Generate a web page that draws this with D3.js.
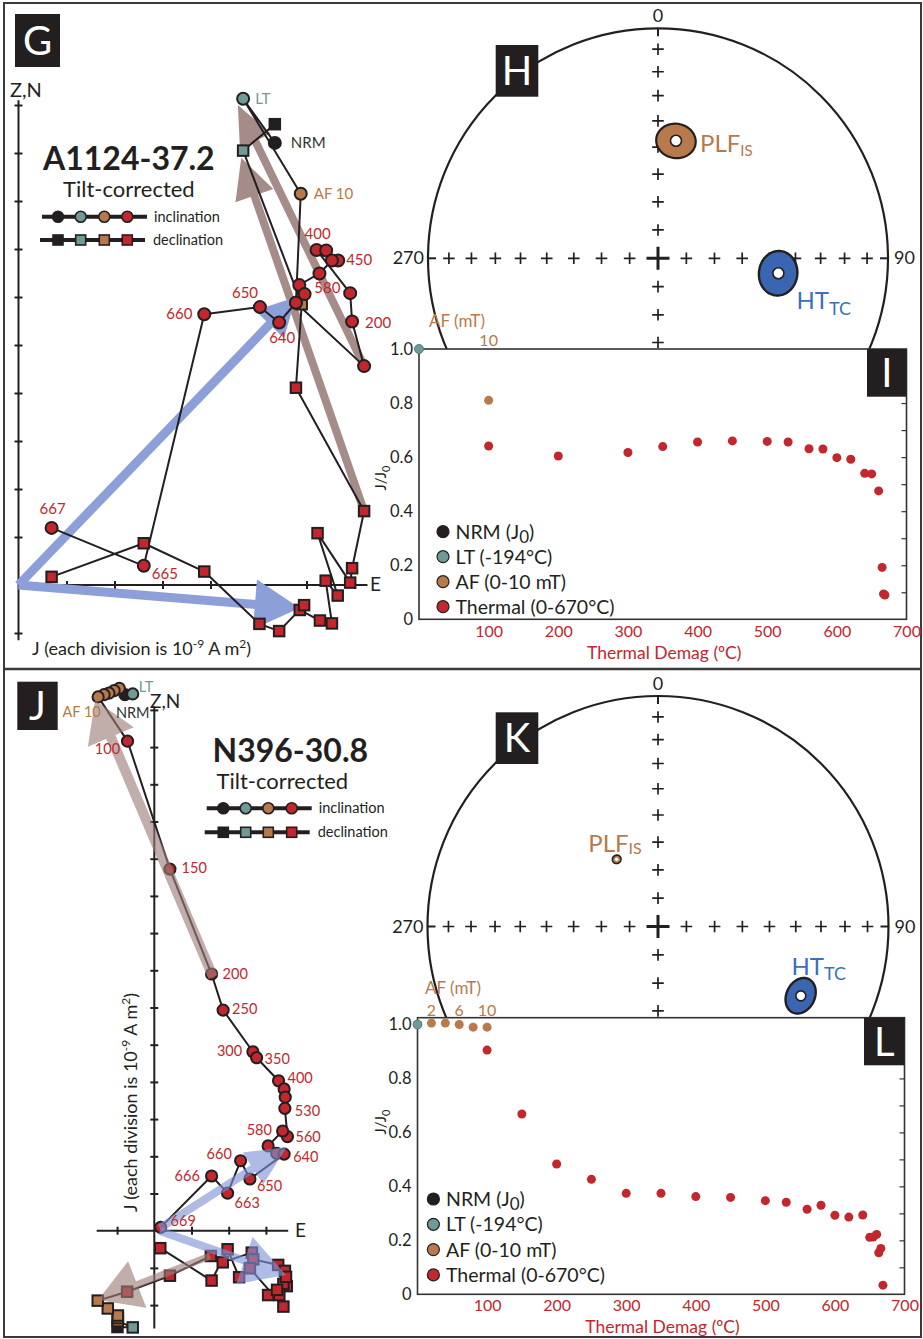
<!DOCTYPE html>
<html>
<head>
<meta charset="utf-8">
<script src="https://cdn.jsdelivr.net/npm/d3@7/dist/d3.min.js"></script>
<style>
  html, body { margin: 0; padding: 0; background: #fff; }
  svg { display: block; }
  text { font-family: Lato, "Noto Sans", "DejaVu Sans", sans-serif; }
</style>
</head>
<body>
<svg id="fig" width="923" height="1339" viewBox="0 0 923 1339"></svg>
<script>
// ======================= DATA =======================
// Orthogonal (Zijderveld) projections, in divisions of 1e-9 A m^2.
// Inclination rows: [step, East, Up(Z)]; declination rows: [step, East, North]

// ---- A1124-37.2 ----
const a1124Inclination = [
  ["NRM", 5.34, 9.21], ["LT", 4.68, 10.13], ["AF10", 5.88, 8.15],
  ["100", 5.78, 5.88], ["150", 7.20, 4.56], ["200", 6.95, 5.49], ["300", 6.91, 6.08],
  ["400", 6.21, 6.98], ["450", 6.66, 6.76], ["500", 6.41, 6.97], ["530", 6.53, 6.76],
  ["560", 6.27, 6.49], ["580", 5.85, 6.25], ["600", 5.96, 6.06], ["620", 5.78, 5.88],
  ["640", 5.43, 5.47], ["650", 5.03, 5.79], ["660", 3.87, 5.64], ["665", 2.61, 0.40],
  ["667", 0.69, 1.19]
];
const a1124Declination = [
  ["NRM", 5.34, 9.60], ["LT", 4.68, 9.05], ["AF10", 5.90, 5.85],
  ["100", 5.78, 4.11], ["150", 7.20, 1.54], ["200", 6.95, 0.35], ["300", 6.91, 0.05],
  ["400", 6.23, 1.08], ["450", 6.65, -0.22], ["500", 6.40, 0.09], ["530", 6.53, -0.80],
  ["560", 6.28, -0.74], ["580", 5.86, -0.52], ["600", 5.95, -0.42], ["640", 5.43, -0.96],
  ["650", 5.02, -0.81], ["660", 3.87, 0.28], ["665", 2.61, 0.87], ["667", 0.69, 0.17]
];
// Component fits: [component, projection, fromE, fromY, toE, toY]
const a1124Fits = [
  ["PLF", "incl", 7.20, 4.56, 4.57, 10.00],
  ["PLF", "decl", 7.20, 1.54, 4.64, 8.90],
  ["HT", "incl", 0, 0, 5.78, 6.00],
  ["HT", "decl", 0, 0, 5.86, -0.48]
];
// Mean directions on the equal-area net: [component, subscript, dec, inc, a95]
const a1124Means = [
  ["PLF", "IS", 8.7, 47.1, 6.5],
  ["HT", "TC", 97.1, 46.2, 7.3]
];
// Demagnetization (J/J0)
const a1124NRM = [[0, 1.0]];
const a1124LT = [[0, 1.0]];
const a1124AF = [[10, 0.810]];               // [mT, J/J0]
const a1124Thermal = [                        // [degC, J/J0]
  [100, 0.641], [200, 0.604], [300, 0.617], [350, 0.639], [400, 0.656], [450, 0.660],
  [500, 0.658], [530, 0.656], [560, 0.631], [580, 0.630], [600, 0.598], [620, 0.592],
  [640, 0.540], [650, 0.538], [660, 0.475], [665, 0.192], [667, 0.094], [669, 0.090]
];
const a1124AFTicks = [10];

// ---- N396-30.8 ----
const n396Inclination = [
  ["NRM", -0.79, 14.41], ["LT", -0.58, 14.43], ["AF2", -0.94, 14.58], ["AF4", -1.08, 14.52],
  ["AF6", -1.22, 14.45], ["AF8", -1.35, 14.41], ["AF10", -1.51, 14.35],
  ["100", -0.72, 13.16], ["150", 0.42, 9.72], ["200", 1.54, 6.90], ["250", 1.85, 5.93],
  ["300", 2.65, 4.81], ["350", 2.75, 4.65], ["400", 3.34, 4.03], ["450", 3.49, 3.81],
  ["500", 3.52, 3.59], ["530", 3.51, 3.29], ["560", 3.58, 2.53], ["580", 3.45, 2.68],
  ["600", 3.06, 2.28], ["620", 3.29, 2.08], ["640", 3.49, 2.06], ["650", 2.57, 1.39],
  ["660", 2.32, 1.88], ["663", 1.97, 1.01], ["666", 1.54, 1.47], ["669", 0.17, 0.09]
];
const n396Declination = [
  ["NRM", -0.99, -2.59], ["LT", -0.58, -2.60], ["AF2", -0.98, -2.43], ["AF4", -0.98, -2.35],
  ["AF6", -0.98, -2.28], ["AF8", -1.25, -2.09], ["AF10", -1.52, -1.88],
  ["100", -0.73, -1.64], ["150", 0.42, -1.21], ["200", 1.52, -0.68], ["250", 1.84, -0.85],
  ["300", 2.62, -0.59], ["350", 2.66, -0.77], ["400", 3.33, -0.92], ["450", 3.51, -1.08],
  ["500", 3.56, -1.49], ["530", 3.47, -1.43], ["560", 3.54, -1.24], ["580", 3.36, -1.73],
  ["600", 3.06, -1.73], ["620", 3.30, -1.59], ["640", 3.47, -2.04], ["650", 2.57, -1.01],
  ["660", 2.28, -1.25], ["663", 1.97, -0.50], ["666", 1.54, -1.34], ["669", 0.16, -0.47]
];
const n396Fits = [
  ["PLF", "incl", 1.58, 6.82, -1.59, 14.26],
  ["PLF", "decl", 1.50, -0.68, -1.51, -1.86],
  ["HT", "incl", 0.15, 0.07, 3.56, 2.25],
  ["HT", "decl", 0.15, -0.01, 3.54, -1.19]
];
const n396Means = [
  ["PLF", "IS", 328.4, 62.0, 1.5],
  ["HT", "TC", 115.9, 31.7, 5.7]
];
const n396NRM = [[0, 1.0]];
const n396LT = [[0, 1.0]];
const n396AF = [[2, 1.005], [4, 1.005], [6, 1.0], [8, 0.99], [10, 0.99]];
const n396Thermal = [
  [100, 0.905], [150, 0.668], [200, 0.483], [250, 0.426], [300, 0.374], [350, 0.374],
  [400, 0.362], [450, 0.359], [500, 0.347], [530, 0.341], [560, 0.315], [580, 0.330],
  [600, 0.293], [620, 0.286], [640, 0.294], [650, 0.211], [655, 0.212], [660, 0.222],
  [663, 0.154], [666, 0.170], [669, 0.034]
];
const n396AFTicks = [2, 6, 10];

// Shared axis values
const netTickInclinations = [10, 20, 30, 40, 50, 60, 70, 80];
const demagTempTicks = [100, 200, 300, 400, 500, 600, 700];
const demagJTicks = [0, 0.2, 0.4, 0.6, 0.8, 1.0];
const demagMinorTicks = [0.1, 0.2, 0.3, 0.4, 0.5, 0.6, 0.7, 0.8, 0.9];
const legendEntries = [["NRM", "NRM (J", "0", ")"], ["LT", "LT (-194°C)"], ["AF", "AF (0-10 mT)"], ["TH", "Thermal (0-670°C)"]];

// ======================= STYLE / LAYOUT =======================
const COL = {
  ink: "#231f20", red: "#c1272d", brown: "#b8794b", teal: "#6f9a95",
  blueFill: "#3a66b1", blueText: "#3c70b8", fitBrown: "#a58c88", fitBlue: "#8d9fd9",
  frame: "#3a3a3a", nrmText: "#333333"
};
const rad = Math.PI / 180;
const svg = d3.select("#fig");

function stepColor(step) {
  if (step === "NRM") return COL.ink;
  if (step === "LT") return COL.teal;
  if (step.startsWith("AF")) return COL.brown;
  return COL.red;
}

function txt(g, x, y, s, o = {}) {
  const t = g.append("text").attr("x", x).attr("y", y).text(s)
    .attr("font-size", o.size || 15).attr("fill", o.fill || COL.ink);
  if (o.anchor) t.attr("text-anchor", o.anchor);
  if (o.weight) t.attr("font-weight", o.weight);
  return t;
}

function fitArrow(g, x, y, f, st) {
  const p0 = [x(f[2]), y(f[3])], p1 = [x(f[4]), y(f[5])];
  const dx = p1[0] - p0[0], dy = p1[1] - p0[1], len = Math.hypot(dx, dy);
  const ux = dx / len, uy = dy / len, px = -uy, py = ux;
  const b = [p1[0] - ux * st.head, p1[1] - uy * st.head];
  const a = g.append("g").attr("opacity", st.opacity);
  a.append("line").attr("x1", p0[0]).attr("y1", p0[1])
    .attr("x2", b[0] + ux * 2).attr("y2", b[1] + uy * 2)
    .attr("stroke", st.color).attr("stroke-width", st.width);
  a.append("path")
    .attr("d", `M${p1[0]},${p1[1]}L${b[0] + px * st.half},${b[1] + py * st.half}L${b[0] - px * st.half},${b[1] - py * st.half}Z`)
    .attr("fill", st.color);
}

// ---------- Orthogonal projection ----------
function zijderveld(cfg) {
  const g = svg.append("g");
  const x = d3.scaleLinear().domain([0, 1]).range([cfg.ox, cfg.ox + cfg.unit]);
  const y = d3.scaleLinear().domain([0, 1]).range([cfg.oy, cfg.oy - cfg.unit]);

  // axes through the origin
  g.append("line").attr("x1", x(cfg.xExtent[0])).attr("x2", x(cfg.xExtent[1]))
    .attr("y1", y(0)).attr("y2", y(0)).attr("stroke", COL.ink).attr("stroke-width", 2);
  g.append("line").attr("x1", x(0)).attr("x2", x(0))
    .attr("y1", y(cfg.yExtent[0])).attr("y2", y(cfg.yExtent[1])).attr("stroke", COL.ink).attr("stroke-width", 2);
  const ax = g.append("g").attr("transform", `translate(0,${y(0)})`)
    .call(d3.axisBottom(x).tickValues(cfg.xTicks).tickFormat("").tickSizeOuter(0));
  const ay = g.append("g").attr("transform", `translate(${x(0)},0)`)
    .call(d3.axisLeft(y).tickValues(cfg.yTicks).tickFormat("").tickSizeOuter(0));
  ax.select(".domain").remove(); ay.select(".domain").remove();
  ax.selectAll(".tick line").attr("y1", -4).attr("y2", 4).attr("stroke", COL.ink).attr("stroke-width", 2);
  ay.selectAll(".tick line").attr("x1", -4).attr("x2", 4).attr("stroke", COL.ink).attr("stroke-width", 2);

  const drawFits = (layer) => cfg.fits.forEach(f => fitArrow(layer, x, y, f, cfg.fitStyle[f[0] + "-" + f[1]]));
  if (!cfg.fitsOnTop) drawFits(g.append("g"));

  const line = d3.line().x(d => x(d[1])).y(d => y(d[2]));
  g.append("path").datum(cfg.decl).attr("d", line).attr("fill", "none")
    .attr("stroke", COL.ink).attr("stroke-width", 2).attr("stroke-linejoin", "round");
  g.append("path").datum(cfg.incl).attr("d", line).attr("fill", "none")
    .attr("stroke", COL.ink).attr("stroke-width", 2).attr("stroke-linejoin", "round");

  const s = cfg.square;
  g.append("g").selectAll("rect").data(cfg.decl).join("rect")
    .attr("x", d => x(d[1]) - s / 2).attr("y", d => y(d[2]) - s / 2)
    .attr("width", s).attr("height", s)
    .attr("fill", d => stepColor(d[0])).attr("stroke", COL.ink).attr("stroke-width", 2);
  g.append("g").selectAll("circle").data(cfg.incl).join("circle")
    .attr("cx", d => x(d[1])).attr("cy", d => y(d[2])).attr("r", cfg.radius)
    .attr("fill", d => stepColor(d[0])).attr("stroke", COL.ink).attr("stroke-width", 2);

  if (cfg.fitsOnTop) drawFits(g.append("g"));

  // step labels
  const lab = g.append("g");
  Object.entries(cfg.labelOffsets).forEach(([step, off]) => {
    const d = cfg.incl.find(p => p[0] === step);
    const name = step === "AF10" ? "AF 10" : step;
    let fill = COL.red;
    if (step === "LT") fill = COL.teal;
    else if (step === "NRM") fill = COL.nrmText;
    else if (step.startsWith("AF")) fill = COL.brown;
    txt(lab, x(d[1]) + off[0], y(d[2]) + off[1], name, { size: cfg.labelSize, fill });
  });
  return { x, y, g };
}

function zLegend(g, L) {
  const cols = [COL.ink, COL.teal, COL.brown, COL.red];
  g.append("line").attr("x1", L.x0).attr("x2", L.x1).attr("y1", L.yInc).attr("y2", L.yInc)
    .attr("stroke", COL.ink).attr("stroke-width", 4);
  g.append("line").attr("x1", L.x0 - 2).attr("x2", L.x1 - 2).attr("y1", L.yDec).attr("y2", L.yDec)
    .attr("stroke", COL.ink).attr("stroke-width", 4);
  L.xs.forEach((cx, i) => {
    g.append("circle").attr("cx", cx).attr("cy", L.yInc).attr("r", 5.5)
      .attr("fill", cols[i]).attr("stroke", COL.ink).attr("stroke-width", 1.6);
    g.append("rect").attr("x", cx - 5).attr("y", L.yDec - 5).attr("width", 10).attr("height", 10)
      .attr("fill", cols[i]).attr("stroke", COL.ink).attr("stroke-width", 1.6);
  });
  txt(g, L.tx, L.yInc + 5, "inclination", { size: 14.5 });
  txt(g, L.tx - 1, L.yDec + 5, "declination", { size: 14.5 });
}

function jAxisLabel(t) {
  t.append("tspan").attr("dy", -7).attr("font-size", 12).text("-9");
  t.append("tspan").attr("dy", 7).text(" A m");
  t.append("tspan").attr("dy", -7).attr("font-size", 12).text("2");
  t.append("tspan").attr("dy", 7).text(")");
}

// ---------- Equal-area net ----------
function stereonet(cfg) {
  const g = svg.append("g");
  const sx = d3.scaleLinear().domain([-1, 1]).range([cfg.cx - cfg.R, cfg.cx + cfg.R]);
  const sy = d3.scaleLinear().domain([-1, 1]).range([cfg.cy + cfg.R, cfg.cy - cfg.R]);
  const proj = (dec, inc) => {
    const r = Math.SQRT2 * Math.sin((90 - Math.abs(inc)) * rad / 2);
    return [sx(r * Math.sin(dec * rad)), sy(r * Math.cos(dec * rad))];
  };
  g.append("circle").attr("cx", sx(0)).attr("cy", sy(0)).attr("r", sx(1) - sx(0))
    .attr("fill", "none").attr("stroke", COL.ink).attr("stroke-width", 2.2);

  const plus = (p, h, w) => {
    g.append("path").attr("d", `M${p[0] - h},${p[1]}H${p[0] + h}M${p[0]},${p[1] - h}V${p[1] + h}`)
      .attr("stroke", COL.ink).attr("stroke-width", w).attr("fill", "none");
  };
  [0, 90, 180, 270].forEach(dec => netTickInclinations.forEach(inc => plus(proj(dec, inc), 5.8, 1.7)));
  plus(proj(0, 90), 11.5, 3);
  // short ticks on the primitive at the cardinal points
  [[0, 0, 1], [90, -1, 0], [270, 1, 0]].forEach(([dec, dx, dy]) => {
    const p = proj(dec, 0);
    g.append("line").attr("x1", p[0]).attr("y1", p[1]).attr("x2", p[0] + dx * 8).attr("y2", p[1] + dy * 8)
      .attr("stroke", COL.ink).attr("stroke-width", 2);
  });
  const pN = proj(0, 0), pE = proj(90, 0), pW = proj(270, 0);
  txt(g, pN[0], pN[1] - 6, "0", { size: 18, anchor: "middle" });
  txt(g, pE[0] + 6, pE[1] + 6, "90", { size: 18 });
  txt(g, pW[0] - 4, pW[1] + 6, "270", { size: 18, anchor: "end" });

  // confidence cones and means
  cfg.means.forEach(m => {
    const [name, sub, dec, inc, a95] = m;
    const st = cfg.meanStyle[name];
    const D = dec * rad, I = inc * rad, A = a95 * rad;
    const mv = [Math.cos(I) * Math.cos(D), Math.cos(I) * Math.sin(D), Math.sin(I)];
    const u = [-Math.sin(I) * Math.cos(D), -Math.sin(I) * Math.sin(D), Math.cos(I)];
    const v = [-Math.sin(D), Math.cos(D), 0];
    const pts = d3.range(0, 360, 4).map(t => {
      const c = Math.cos(t * rad), s = Math.sin(t * rad);
      const p = [0, 1, 2].map(k => Math.cos(A) * mv[k] + Math.sin(A) * (c * u[k] + s * v[k]));
      return proj(Math.atan2(p[1], p[0]) / rad, Math.asin(p[2]) / rad);
    });
    g.append("path").attr("d", d3.line().curve(d3.curveLinearClosed)(pts))
      .attr("fill", st.fill).attr("stroke", COL.ink).attr("stroke-width", st.stroke);
    const c = proj(dec, inc);
    g.append("circle").attr("cx", c[0]).attr("cy", c[1]).attr("r", st.dot)
      .attr("fill", "#fff").attr("stroke", COL.ink).attr("stroke-width", st.dotStroke);
    const t = txt(g, c[0] + st.label[0], c[1] + st.label[1], name, { size: st.size, fill: st.text });
    t.append("tspan").attr("font-size", st.subSize).attr("dy", st.subShift).text(sub);
  });
  return { g, proj };
}

// ---------- Demagnetization plot ----------
function demagPlot(cfg) {
  const g = svg.append("g");
  const x = d3.scaleLinear().domain([0, 700]).range([cfg.left, cfg.right]);
  const y = d3.scaleLinear().domain([0, cfg.ymax]).range([cfg.bottom, cfg.top]);
  g.append("rect").attr("x", cfg.left).attr("y", cfg.top)
    .attr("width", cfg.right - cfg.left).attr("height", cfg.bottom - cfg.top)
    .attr("fill", "#fff").attr("stroke", "#333").attr("stroke-width", 1.6);

  const xa = g.append("g").attr("transform", `translate(0,${cfg.bottom})`)
    .call(d3.axisBottom(x).tickValues(demagTempTicks).tickSize(0).tickPadding(cfg.xPad));
  xa.select(".domain").remove();
  xa.selectAll("text").attr("fill", COL.red).attr("font-size", 16).attr("font-family", null);

  const ya = g.append("g").attr("transform", `translate(${cfg.left},0)`)
    .call(d3.axisLeft(y).tickValues(demagJTicks).tickSize(0).tickPadding(6)
      .tickFormat(d => d === 0 ? "0" : d.toFixed(1)));
  ya.select(".domain").remove();
  ya.selectAll("text").attr("fill", COL.ink).attr("font-size", 16.5).attr("font-family", null);

  const yr = g.append("g").attr("transform", `translate(${cfg.right},0)`)
    .call(d3.axisLeft(y).tickValues(demagMinorTicks).tickSize(5).tickFormat(""));
  yr.select(".domain").remove();
  yr.selectAll("line").attr("stroke", "#333").attr("stroke-width", 1.2);

  // top AF axis labels (mT plotted at 10 x mT)
  txt(g, cfg.afTitle[0], cfg.afTitle[1], "AF (mT)", { size: 17, fill: COL.brown });
  cfg.afTicks.forEach(v => txt(g, x(v * 10), cfg.afTickY, String(v), { size: 16, fill: COL.brown, anchor: "middle" }));

  // axis titles
  txt(g, (cfg.left + cfg.right) / 2 + cfg.titleShift, cfg.titleY, "Thermal Demag (ºC)", { size: 17.5, fill: COL.red, anchor: "middle" });
  const yl = g.append("text").attr("transform", `translate(${cfg.yTitle[0]},${cfg.yTitle[1]}) rotate(-90)`)
    .attr("text-anchor", "middle").attr("font-size", 15).attr("fill", COL.ink).text("J/J");
  yl.append("tspan").attr("font-size", 11).attr("dy", 4).text("0");

  // legend
  const lg = g.append("g");
  const lcol = { NRM: COL.ink, LT: COL.teal, AF: COL.brown, TH: COL.red };
  legendEntries.forEach((e, i) => {
    const yy = cfg.legend.y0 + i * cfg.legend.dy;
    lg.append("circle").attr("cx", cfg.legend.cx).attr("cy", yy).attr("r", 6)
      .attr("fill", lcol[e[0]]).attr("stroke", COL.ink).attr("stroke-width", 1.2);
    const t = txt(lg, cfg.legend.tx, yy + 7, e[1], { size: 19.5 });
    if (e.length > 2) {
      t.append("tspan").attr("dy", 4).attr("font-size", 17).text(e[2]);
      t.append("tspan").attr("dy", -4).text(e[3]);
    }
  });

  // data
  const dots = g.append("g");
  const put = (data, fx, color, stroke) => dots.selectAll(null).data(data).join("circle")
    .attr("cx", d => x(fx(d[0]))).attr("cy", d => y(d[1])).attr("r", 4.5)
    .attr("fill", color).attr("stroke", stroke || "none").attr("stroke-width", 0.8);
  put(cfg.thermal, t => t, COL.red);
  put(cfg.af, mT => mT * 10, COL.brown);
  put(cfg.nrm, t => t, COL.ink);
  put(cfg.lt, t => t, COL.teal, "#55807b");
  return g;
}

function panelTag(x, y, w, h, letter) {
  const g = svg.append("g");
  g.append("rect").attr("x", x).attr("y", y).attr("width", w).attr("height", h).attr("fill", COL.ink);
  txt(g, x + w / 2, y + h / 2 + 14, letter, { size: 40, fill: "#fff", anchor: "middle" });
}

// ======================= FIGURE =======================
// outer frame and panel divider
svg.append("rect").attr("x", 4).attr("y", 3).attr("width", 917).attr("height", 1334)
  .attr("fill", "#fff").attr("stroke", COL.frame).attr("stroke-width", 2);
svg.append("line").attr("x1", 4).attr("x2", 921).attr("y1", 669).attr("y2", 669)
  .attr("stroke", COL.frame).attr("stroke-width", 2.5);

// ---- G : A1124-37.2 orthogonal projection ----
const zG = zijderveld({
  ox: 18.5, oy: 585, unit: 48, xExtent: [0, 7.27], yExtent: [-1.15, 10.1],
  xTicks: [1, 2, 3, 4, 5, 6, 7], yTicks: [-1, 1, 2, 3, 4, 5, 6, 7, 8, 9, 10],
  incl: a1124Inclination, decl: a1124Declination, fits: a1124Fits, fitsOnTop: false,
  radius: 6, square: 10.5, labelSize: 15,
  fitStyle: {
    "PLF-incl": { color: COL.fitBrown, width: 8, head: 40, half: 17, opacity: 1 },
    "PLF-decl": { color: COL.fitBrown, width: 8, head: 40, half: 20, opacity: 1 },
    "HT-incl": { color: COL.fitBlue, width: 9, head: 38, half: 20, opacity: 1 },
    "HT-decl": { color: COL.fitBlue, width: 9, head: 45, half: 25, opacity: 1 }
  },
  labelOffsets: {
    LT: [12, 5], NRM: [16, 5], AF10: [13, 5], "200": [13, 7], "400": [-12, -11],
    "450": [8, 4], "580": [15, 8], "640": [-10, 21], "650": [-28, -9], "660": [-38, 5],
    "665": [8, 13], "667": [-12, -14]
  }
});
txt(zG.g, 10, 97, "Z,N", { size: 20 });
txt(zG.g, 370, 591, "E", { size: 19 });
jAxisLabel(txt(zG.g, 32, 655, "J (each division is 10", { size: 18 }));
txt(zG.g, 43, 170, "A1124-37.2", { size: 32, weight: 700 });
txt(zG.g, 63, 197, "Tilt-corrected", { size: 22 });
zLegend(zG.g, { x0: 42, x1: 147, yInc: 216.7, yDec: 240, xs: [58, 80.7, 104.3, 127.3], tx: 154 });

// ---- H : A1124 net ----
const meanStyleH = {
  PLF: { fill: COL.brown, text: COL.brown, stroke: 2.2, dot: 5.5, dotStroke: 1.6, size: 24, subSize: 15, subShift: 4, label: [24, 11] },
  HT: { fill: COL.blueFill, text: COL.blueText, stroke: 2.4, dot: 5.5, dotStroke: 1.6, size: 24, subSize: 18, subShift: 6, label: [18, 36] }
};
stereonet({ cx: 658, cy: 258.3, R: 230, means: a1124Means, meanStyle: meanStyleH });

// ---- I : A1124 demagnetization ----
demagPlot({
  left: 419, right: 906.5, top: 349, bottom: 619.3, ymax: 1.0, xPad: 6,
  thermal: a1124Thermal, af: a1124AF, lt: a1124LT, nrm: a1124NRM, afTicks: a1124AFTicks,
  afTitle: [429, 327], afTickY: 346,
  titleY: 659, titleShift: 1.5, yTitle: [386, 478],
  legend: { cx: 443, tx: 455.5, y0: 531.7, dy: 25 }
});

// ---- J : N396-30.8 orthogonal projection ----
const zJ = zijderveld({
  ox: 154.3, oy: 1230.7, unit: 37.2, xExtent: [-1.55, 3.6], yExtent: [-2.63, 14.1],
  xTicks: [-1, 1, 2, 3], yTicks: [-2, -1, 1, 2, 3, 4, 5, 6, 7, 8, 9, 10, 11, 12, 13, 14],
  incl: n396Inclination, decl: n396Declination, fits: n396Fits, fitsOnTop: true,
  radius: 5.6, square: 10.5, labelSize: 14.5,
  fitStyle: {
    "PLF-incl": { color: "#9c7c77", width: 10, head: 40, half: 25, opacity: 0.62 },
    "PLF-decl": { color: "#9c7c77", width: 7, head: 42, half: 25, opacity: 0.62 },
    "HT-incl": { color: "#7f93d6", width: 8, head: 40, half: 19, opacity: 0.62 },
    "HT-decl": { color: "#7f93d6", width: 8, head: 44, half: 25, opacity: 0.62 }
  },
  labelOffsets: {
    LT: [6, -2], AF10: [-35.6, 20], NRM: [-9, 23.5], "100": [-32.7, 13], "150": [11.7, 4],
    "200": [11, 5], "250": [9, 4], "300": [-36, 4], "350": [8, 6], "400": [9, 2],
    "530": [10, 8], "580": [-36, 4], "560": [8, 5], "640": [9, 8], "660": [-34, -2],
    "666": [-37, 5], "650": [7, 12], "663": [7, 15], "669": [10, -1]
  }
});
txt(zJ.g, 150, 708, "Z,N", { size: 19 });
txt(zJ.g, 295, 1237, "E", { size: 19 });
jAxisLabel(zJ.g.append("text").attr("transform", "translate(137,1212) rotate(-90)")
  .attr("font-size", 18).attr("fill", COL.ink).text("J (each division is 10"));
txt(zJ.g, 212.5, 761.7, "N396-30.8", { size: 32, weight: 700 });
txt(zJ.g, 216.5, 789, "Tilt-corrected", { size: 22 });
zLegend(zJ.g, { x0: 206.7, x1: 311.7, yInc: 808.3, yDec: 832.3, xs: [223.3, 245.7, 268.3, 291.7], tx: 318.7 });

// ---- K : N396 net ----
const meanStyleK = {
  PLF: { fill: COL.brown, text: COL.brown, stroke: 1.6, dot: 1.8, dotStroke: 0, size: 24, subSize: 16, subShift: 2, label: [-28.4, -7.6] },
  HT: { fill: COL.blueFill, text: COL.blueText, stroke: 2.4, dot: 5, dotStroke: 1.6, size: 24, subSize: 18, subShift: 5, label: [-9.3, -20.7] }
};
stereonet({ cx: 658, cy: 926.5, R: 230.5, means: n396Means, meanStyle: meanStyleK });

// ---- L : N396 demagnetization ----
demagPlot({
  left: 417.5, right: 904.5, top: 1017.7, bottom: 1294.3, ymax: 1.025, xPad: 5,
  thermal: n396Thermal, af: n396AF, lt: n396LT, nrm: n396NRM, afTicks: n396AFTicks,
  afTitle: [425, 994], afTickY: 1016,
  titleY: 1332.5, titleShift: 1.5, yTitle: [386, 1122],
  legend: { cx: 433.4, tx: 446, y0: 1199, dy: 25.3 }
});

// panel tags
panelTag(15, 14, 45, 53, "G");
panelTag(495.7, 45, 42.6, 51.7, "H");
panelTag(867, 349, 39.5, 47.7, "I");
panelTag(17.3, 681.7, 40.4, 48.3, "J");
panelTag(495.7, 712.3, 42.6, 51.7, "K");
panelTag(864, 1017.7, 40.5, 47.6, "L");
</script>
</body>
</html>
